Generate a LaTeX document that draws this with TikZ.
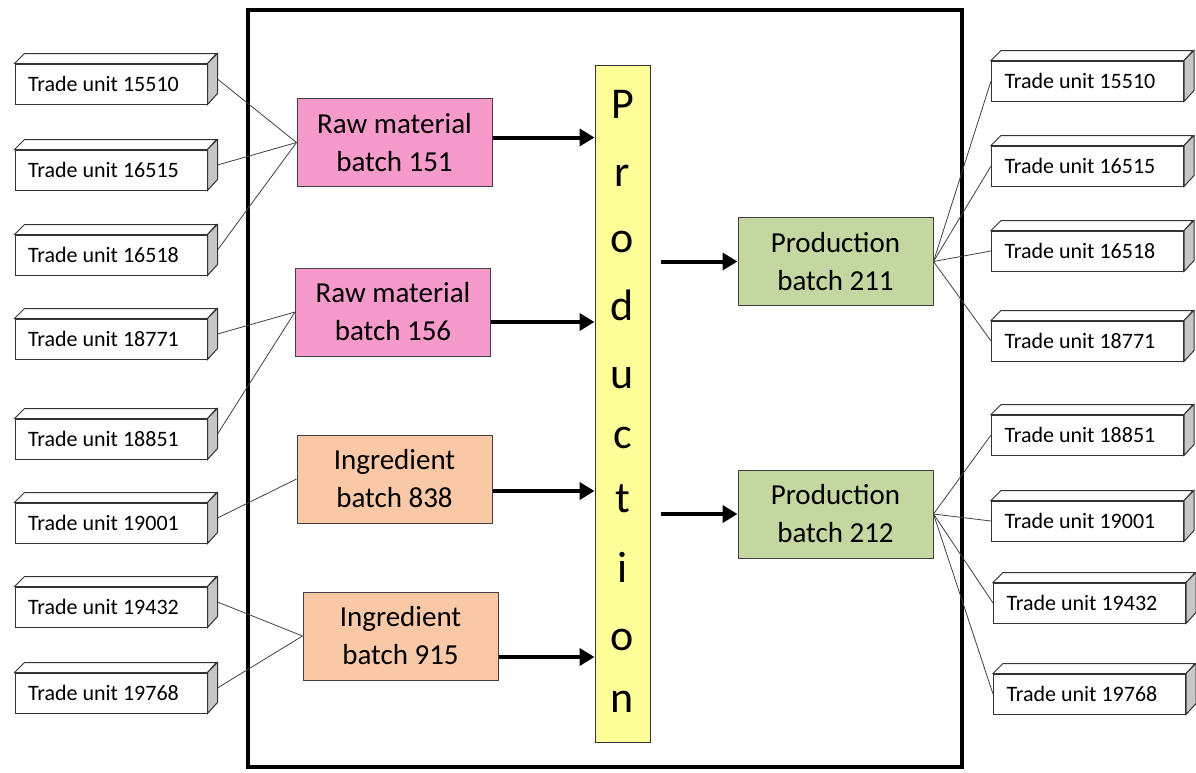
\documentclass[tikz,border=0pt]{standalone}
\usepackage{fontspec}
\setmainfont{Carlito}
\usetikzlibrary{arrows.meta, positioning}
\definecolor{BatchPink}{HTML}{F59ACB}
\definecolor{BatchPeach}{HTML}{F9C8A6}
\definecolor{BatchGreen}{HTML}{C4D7A0}
\definecolor{ProdYellow}{HTML}{FFFF99}

\begin{document}
\begin{tikzpicture}[
			x=1pt, y=-1pt,
			tu/.style={draw=black!80, fill=white, line width=1pt, minimum height=40pt, inner ysep=0pt, inner xsep=13pt, text width=166pt, align=flush left, font=\fontsize{22}{26}\selectfont,
				append after command={\pgfextra{
					\filldraw[fill=white, draw=black!80, line width=1pt] (\tikzlastnode.north west) -- ++(10,-10) -- ++(192,0) -- (\tikzlastnode.north east) -- cycle;
					\filldraw[fill=gray!45, draw=black!80, line width=1pt] (\tikzlastnode.north east) -- ++(10,-10) -- ++(0,40) -- (\tikzlastnode.south east) -- cycle;}}},
			batch/.style={draw=black!75, line width=1pt, minimum width=195pt, minimum height=88pt, inner sep=0pt, align=center, font=\fontsize{29}{38}\selectfont},
			letter/.style={anchor=base, inner sep=0pt, font=\fontsize{44}{52}\selectfont},
			link/.style={draw=black!75, line width=0.8pt},
			flow/.style={line width=4pt, -{Triangle[length=15pt, width=17pt]}},
			]
			\useasboundingbox (0,0) rectangle (1196,772);
			\draw[line width=4pt] (248,10) rectangle (962,767);
			
			% trade units in
			\node (l1) [tu] at (111,84) {Trade unit 15510};
			\node (l2) [tu] at (111,170) {Trade unit 16515};
			\node (l3) [tu] at (111,255) {Trade unit 16518};
			\node (l4) [tu] at (111,339) {Trade unit 18771};
			\node (l5) [tu] at (111,439) {Trade unit 18851};
			\node (l6) [tu] at (111,523) {Trade unit 19001};
			\node (l7) [tu] at (111,607) {Trade unit 19432};
			\node (l8) [tu] at (111,693) {Trade unit 19768};
			
			% batches in
			\node (rm151) [batch, fill=BatchPink] at (394.5,142.5) {Raw material\\batch 151};
			\node (rm156) [batch, fill=BatchPink] at (393,312) {Raw material\\batch 156};
			\node (ing838) [batch, fill=BatchPeach] at (394.5,479) {Ingredient\\batch 838};
			\node (ing915) [batch, fill=BatchPeach] at (400.5,636) {Ingredient\\batch 915};
			
			% production column
			\node (prod) [draw=black!80, line width=1pt, fill=ProdYellow, minimum width=55pt, minimum height=677pt, inner sep=0pt] at (622.5,403.5) {};
			\node (p1) [letter] at (622.5,118) {P};
			\node (p2) [letter] at (622.5,186) {r};
			\node (p3) [letter] at (622.5,252) {o};
			\node (p4) [letter] at (622.5,320) {d};
			\node (p5) [letter] at (622.5,388) {u};
			\node (p6) [letter] at (622.5,448) {c};
			\node (p7) [letter] at (622.5,512) {t};
			\node (p8) [letter] at (622.5,582) {i};
			\node (p9) [letter] at (622.5,650) {o};
			\node (p10) [letter] at (622.5,712) {n};
			
			% batches out
			\node (pb211) [batch, fill=BatchGreen] at (835.5,261.5) {Production\\batch 211};
			\node (pb212) [batch, fill=BatchGreen] at (835.5,514) {Production\\batch 212};
			
			% trade units out
			\node (r1) [tu] at (1087.5,81) {Trade unit 15510};
			\node (r2) [tu] at (1087.5,166) {Trade unit 16515};
			\node (r3) [tu] at (1087.5,251) {Trade unit 16518};
			\node (r4) [tu] at (1087.5,341) {Trade unit 18771};
			\node (r5) [tu] at (1087.5,435) {Trade unit 18851};
			\node (r6) [tu] at (1087.5,521) {Trade unit 19001};
			\node (r7) [tu] at (1089.5,603) {Trade unit 19432};
			\node (r8) [tu] at (1089.5,694) {Trade unit 19768};
			
			\draw[link] ([shift={(10,-5)}]l1.east) -- (rm151.west);
			\draw[link] ([shift={(10,-5)}]l2.east) -- (rm151.west);
			\draw[link] ([shift={(10,-5)}]l3.east) -- (rm151.west);
			\draw[link] ([shift={(10,-5)}]l4.east) -- (rm156.west);
			\draw[link] ([shift={(10,-5)}]l5.east) -- (rm156.west);
			\draw[link] ([shift={(10,-5)}]l6.east) -- (ing838.west);
			\draw[link] ([shift={(10,-5)}]l7.east) -- (ing915.west);
			\draw[link] ([shift={(10,-5)}]l8.east) -- (ing915.west);
			
			\draw[flow] (rm151.east) ++(0,-5) coordinate (f1) -- (f1 -| prod.west);
			\draw[flow] (rm156.east) ++(0,10) coordinate (f2) -- (f2 -| prod.west);
			\draw[flow] (ing838.east) ++(0,12) coordinate (f3) -- (f3 -| prod.west);
			\draw[flow] (ing915.east) ++(0,21) coordinate (f4) -- (f4 -| prod.west);
			\draw[flow, shorten <=10pt] (prod.east |- pb211) -- (pb211);
			\draw[flow, shorten <=10pt] (prod.east |- pb212) -- (pb212);
			
			\draw[link] (pb211.east) -- (r1.west);
			\draw[link] (pb211.east) -- (r2.west);
			\draw[link] (pb211.east) -- (r3.west);
			\draw[link] (pb211.east) -- (r4.west);
			\draw[link] (pb212.east) -- (r5.west);
			\draw[link] (pb212.east) -- (r6.west);
			\draw[link] (pb212.east) -- (r7.west);
			\draw[link] (pb212.east) -- (r8.west);
		\end{tikzpicture}
\end{document}
